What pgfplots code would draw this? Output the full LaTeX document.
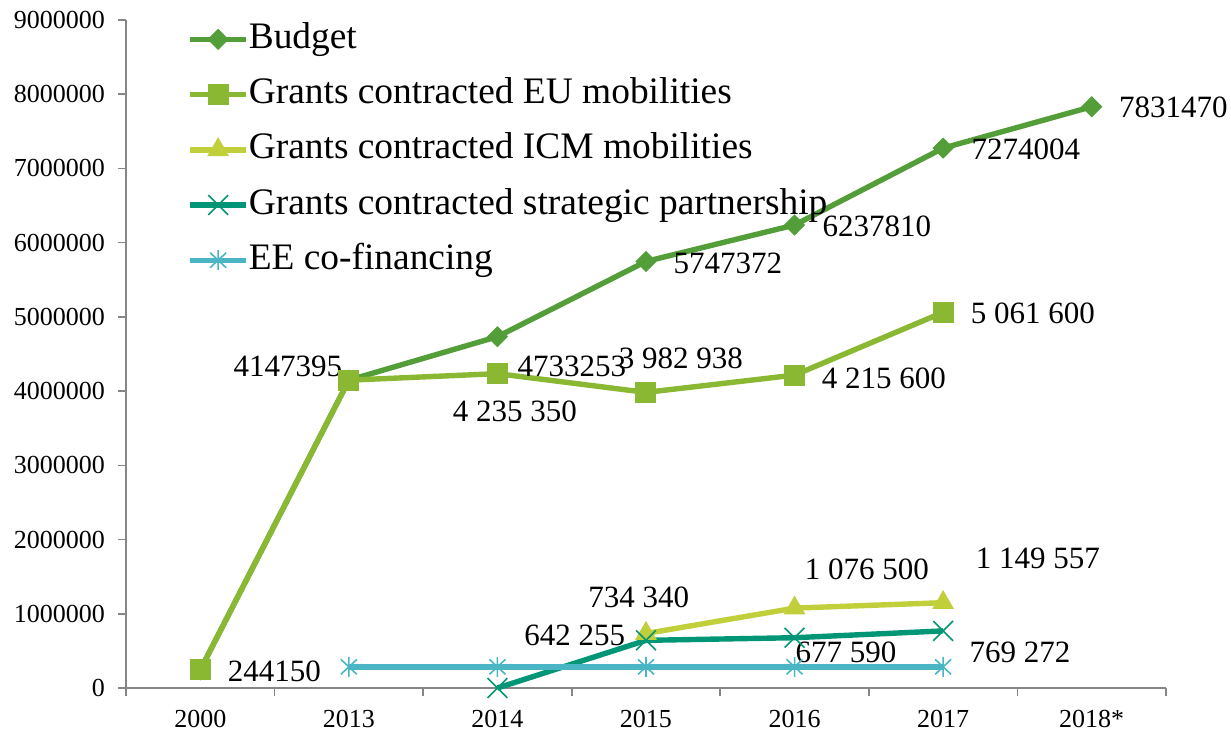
\documentclass[border=0pt]{standalone}
\usepackage{fontspec}
\setmainfont{Liberation Serif}
\usepackage{pgfplots}
\pgfplotsset{compat=1.18}
\definecolor{cBud}{HTML}{549E39}
\definecolor{cEU}{HTML}{8AB833}
\definecolor{cICM}{HTML}{C0CF3A}
\definecolor{cSP}{HTML}{029676}
\definecolor{cEE}{HTML}{4AB5C4}
\definecolor{axgray}{HTML}{868686}
\tikzset{lab/.style={font=\fontsize{15.5}{16}\selectfont, inner sep=0pt, anchor=center}}
\pgfdeclareplotmark{xast}{%
 \pgfpathmoveto{\pgfqpoint{0pt}{-\pgfplotmarksize}}\pgfpathlineto{\pgfqpoint{0pt}{\pgfplotmarksize}}%
 \pgfpathmoveto{\pgfqpoint{-.8\pgfplotmarksize}{-.75\pgfplotmarksize}}\pgfpathlineto{\pgfqpoint{.8\pgfplotmarksize}{.75\pgfplotmarksize}}%
 \pgfpathmoveto{\pgfqpoint{-.8\pgfplotmarksize}{.75\pgfplotmarksize}}\pgfpathlineto{\pgfqpoint{.8\pgfplotmarksize}{-.75\pgfplotmarksize}}%
 \pgfusepathqstroke}
\begin{document}
\begin{tikzpicture}
\path[use as bounding box] (-63pt,-21pt) rectangle (552.5pt,344pt);
\begin{axis}[
  at={(0,0)}, anchor=south west,
  scale only axis, width=520pt, height=334pt,
  xmin=-0.5, xmax=6.5, ymin=0, ymax=9000000,
  clip=false,
  axis x line*=bottom, axis y line*=left,
  axis line style={draw=axgray, line width=0.8pt},
  xtick={0,1,2,3,4,5,6},
  xticklabels={2000,2013,2014,2015,2016,2017,2018*},
  minor xtick={-0.5,0.5,1.5,2.5,3.5,4.5,5.5,6.5},
  major x tick style={draw=none},
  minor x tick style={draw=axgray, line width=0.8pt},
  minor tick length=4pt,
  major tick length=4pt,
  tick align=outside,
  ytick={0,1000000,2000000,3000000,4000000,5000000,6000000,7000000,8000000,9000000},
  y tick style={draw=axgray, line width=0.8pt},
  scaled y ticks=false,
  yticklabel style={/pgf/number format/fixed, /pgf/number format/1000 sep={}, xshift=-3pt},
  xticklabel style={yshift=-3.5pt},
  /pgf/number format/assume math mode=true,
  ticklabel style={font=\fontsize{13}{13}\selectfont, text=black},
  legend image code/.code={\draw[mark repeat=2, mark phase=2, #1] plot coordinates {(0pt,0pt) (14pt,0pt) (28pt,0pt)};},
  legend style={at={(rel axis cs:0.0587,0.9985)}, anchor=north west, draw=none, fill=none,
    font=\fontsize{18.7}{19}\selectfont, inner sep=0pt, row sep=9.6pt,
    nodes={inner sep=0pt, text height=13.5pt, text depth=4.5pt}},
  legend cell align=left,
]
\addplot[cBud, line width=2.7pt, mark=square*, mark size=3.5pt, mark options={rotate=45, solid, line width=0.5pt}]
  coordinates {(0,244150)(1,4147395)(2,4733253)(3,5747372)(4,6237810)(5,7274004)(6,7831470)};
\addlegendentry{Budget}
\addplot[cEU, line width=2.7pt, mark=square*, mark size=5pt, mark options={solid, line width=0.5pt}]
  coordinates {(0,244150)(1,4147395)(2,4235350)(3,3982938)(4,4215600)(5,5061600)};
\addlegendentry{Grants contracted EU mobilities}
\addplot[cICM, line width=2.7pt, mark=triangle*, mark size=5.8pt, mark options={solid, line width=0.5pt}]
  coordinates {(3,734340)(4,1076500)(5,1149557)};
\addlegendentry{Grants contracted ICM mobilities}
\addplot[cSP, line width=2.7pt, mark=x, mark size=7pt, mark options={solid, line width=0.8pt}]
  coordinates {(2,0)(3,642255)(4,677590)(5,769272)};
\addlegendentry{Grants contracted strategic partnership}
\addplot[cEE, line width=2.7pt, mark=xast, mark size=5pt, mark options={solid, line width=0.8pt}]
  coordinates {(1,285000)(2,285000)(3,285000)(4,285000)(5,285000)};
\addlegendentry{EE co-financing}

\node[lab, xshift=-30.5pt, yshift=7pt] at (axis cs:1,4147395) {4147395};
\node[lab, xshift=37.2pt, yshift=-15pt] at (axis cs:2,4733253) {4733253};
\node[lab, xshift=8.7pt, yshift=-18.7pt] at (axis cs:2,4235350) {4 235 350};
\node[lab, xshift=17.4pt, yshift=17.2pt] at (axis cs:3,3982938) {3 982 938};
\node[lab, xshift=40.9pt, yshift=-0.8pt] at (axis cs:3,5747372) {5747372};
\node[lab, xshift=41.2pt, yshift=-0.75pt] at (axis cs:4,6237810) {6237810};
\node[lab, xshift=44.7pt, yshift=-1.5pt] at (axis cs:4,4215600) {4 215 600};
\node[lab, xshift=44.9pt, yshift=-0.4pt] at (axis cs:5,5061600) {5 061 600};
\node[lab, xshift=41.4pt, yshift=-0.7pt] at (axis cs:5,7274004) {7274004};
\node[lab, xshift=40.8pt, yshift=-0.4pt] at (axis cs:6,7831470) {7831470};
\node[lab, xshift=37pt, yshift=-0.5pt] at (axis cs:0,244150) {244150};
\node[lab, xshift=-3.6pt, yshift=18.2pt] at (axis cs:3,734340) {734 340};
\node[lab, xshift=-35.6pt, yshift=2.6pt] at (axis cs:3,642255) {642 255};
\node[lab, xshift=36.2pt, yshift=19.5pt] at (axis cs:4,1076500) {1 076 500};
\node[lab, xshift=47.4pt, yshift=22.3pt] at (axis cs:5,1149557) {1 149 557};
\node[lab, xshift=25.7pt, yshift=-7.2pt] at (axis cs:4,677590) {677 590};
\node[lab, xshift=38.4pt, yshift=-10.5pt] at (axis cs:5,769272) {769 272};
\end{axis}
\end{tikzpicture}
\end{document}
